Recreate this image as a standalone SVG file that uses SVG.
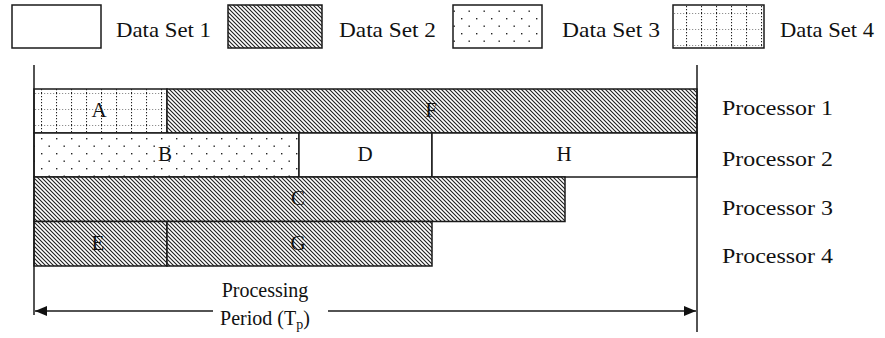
<svg xmlns="http://www.w3.org/2000/svg" width="885" height="338" viewBox="0 0 885 338">
  <style>
    .box { stroke: #1a1a1a; stroke-width: 1.5; }
    .lbl { font-family: "Liberation Serif", "DejaVu Serif", serif; font-size: 22px; fill: #111; }
    .cap { font-family: "Liberation Serif", "DejaVu Serif", serif; font-size: 20px; fill: #111; text-anchor: middle; }
    .tag { font-family: "Liberation Serif", "DejaVu Serif", serif; font-size: 21px; fill: #111; text-anchor: middle; }
    .axis { stroke: #1a1a1a; stroke-width: 1.5; fill: none; }
  </style>
  <defs>
    <!-- Data Set 2: dense back-slash hatching -->
    <pattern id="hatch" width="4" height="4" patternUnits="userSpaceOnUse">
      <rect width="4" height="4" fill="#fff"/>
      <path d="M-1,-1 L5,5 M-1,3 L1,5 M3,-1 L5,1" stroke="#1e1e1e" stroke-width="1.1"/>
    </pattern>
    <!-- Data Set 3: staggered dots -->
    <pattern id="dots" x="41" y="138" width="15" height="15" patternUnits="userSpaceOnUse">
      <rect width="15" height="15" fill="#fff"/>
      <rect x="0" y="0" width="1.4" height="1.4" fill="#222"/>
      <rect x="7.5" y="7.5" width="1.4" height="1.4" fill="#222"/>
    </pattern>
    <!-- Data Set 4: dotted grid -->
    <pattern id="grid" x="41" y="93" width="15" height="16" patternUnits="userSpaceOnUse">
      <rect width="15" height="16" fill="#fff"/>
      <path d="M0,0 H15 M0.5,0 V16" stroke="#222" stroke-width="1.1" stroke-dasharray="1.2 1.8"/>
    </pattern>
    <marker id="head" viewBox="0 0 12 10" refX="12" refY="5" markerWidth="12" markerHeight="10" markerUnits="userSpaceOnUse" orient="auto-start-reverse">
      <path d="M0,0 L12,5 L0,10 Z" fill="#111"/>
    </marker>
  </defs>

  <rect width="885" height="338" fill="#fff"/>

  <!-- legend -->
  <g id="legend-set1">
    <rect class="box" x="12" y="5" width="89" height="43" fill="#fff"/>
    <text class="lbl" x="116" y="37" textLength="95" lengthAdjust="spacingAndGlyphs">Data Set 1</text>
  </g>
  <g id="legend-set2">
    <rect class="box" x="228" y="5" width="94" height="43" fill="url(#hatch)"/>
    <text class="lbl" x="339" y="37" textLength="97" lengthAdjust="spacingAndGlyphs">Data Set 2</text>
  </g>
  <g id="legend-set3">
    <rect class="box" x="453" y="5" width="89" height="43" fill="url(#dots)"/>
    <text class="lbl" x="562" y="37" textLength="98" lengthAdjust="spacingAndGlyphs">Data Set 3</text>
  </g>
  <g id="legend-set4">
    <rect class="box" x="673" y="5" width="91" height="43" fill="url(#grid)"/>
    <text class="lbl" x="780" y="37" textLength="94" lengthAdjust="spacingAndGlyphs">Data Set 4</text>
  </g>

  <!-- Processor 1 -->
  <g id="task-A">
    <rect class="box" x="34" y="89" width="133" height="44" fill="url(#grid)"/>
    <text class="tag" x="99" y="117">A</text>
  </g>
  <g id="task-F">
    <rect class="box" x="167" y="89" width="530" height="44" fill="url(#hatch)"/>
    <text class="tag" x="431" y="117">F</text>
  </g>

  <!-- Processor 2 -->
  <g id="task-B">
    <rect class="box" x="34" y="133" width="265" height="44" fill="url(#dots)"/>
    <text class="tag" x="165" y="161">B</text>
  </g>
  <g id="task-D">
    <rect class="box" x="299" y="133" width="133" height="44" fill="#fff"/>
    <text class="tag" x="365" y="161">D</text>
  </g>
  <g id="task-H">
    <rect class="box" x="432" y="133" width="265" height="44" fill="#fff"/>
    <text class="tag" x="564" y="161">H</text>
  </g>

  <!-- Processor 3 -->
  <g id="task-C">
    <rect class="box" x="34" y="177" width="531" height="44.5" fill="url(#hatch)"/>
    <text class="tag" x="298" y="205">C</text>
  </g>

  <!-- Processor 4 -->
  <g id="task-E">
    <rect class="box" x="34" y="221.5" width="133" height="44.5" fill="url(#hatch)"/>
    <text class="tag" x="98" y="250">E</text>
  </g>
  <g id="task-G">
    <rect class="box" x="167" y="221.5" width="265" height="44.5" fill="url(#hatch)"/>
    <text class="tag" x="298" y="250">G</text>
  </g>

  <!-- processor row labels -->
  <g id="label-p1"><text class="lbl" x="722" y="115" textLength="111" lengthAdjust="spacingAndGlyphs">Processor 1</text></g>
  <g id="label-p2"><text class="lbl" x="722" y="166" textLength="111" lengthAdjust="spacingAndGlyphs">Processor 2</text></g>
  <g id="label-p3"><text class="lbl" x="722" y="215" textLength="111" lengthAdjust="spacingAndGlyphs">Processor 3</text></g>
  <g id="label-p4"><text class="lbl" x="722" y="263" textLength="111" lengthAdjust="spacingAndGlyphs">Processor 4</text></g>

  <!-- period bounds and dimension arrow -->
  <g id="connectors">
    <line class="axis" x1="34" y1="65" x2="34" y2="315"/>
    <line class="axis" x1="697" y1="65" x2="697" y2="332"/>
    <line class="axis" x1="213" y1="311" x2="35" y2="311" marker-end="url(#head)"/>
    <line class="axis" x1="328" y1="311" x2="696" y2="311" marker-end="url(#head)"/>
  </g>

  <g id="label-period">
    <text class="cap" x="265" y="297">Processing</text>
    <text class="cap" x="265" y="325">Period (T<tspan font-size="14" dy="4">p</tspan><tspan dy="-4">)</tspan></text>
  </g>
</svg>
